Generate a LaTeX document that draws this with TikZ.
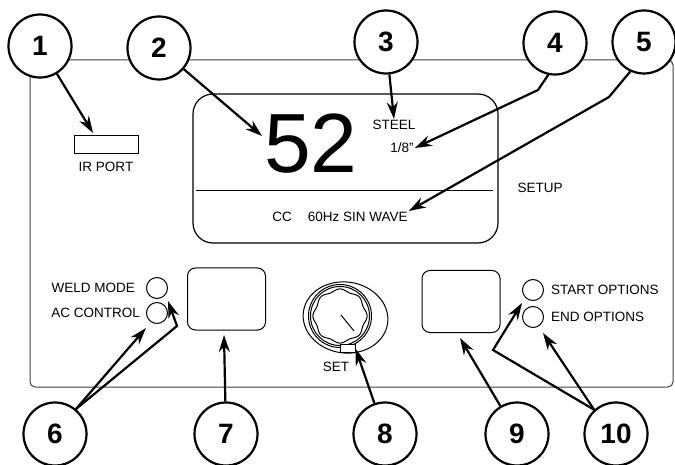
\documentclass[tikz,border=0pt]{standalone}
\usepackage{fontspec}
\setmainfont{Liberation Sans}
\usetikzlibrary{arrows.meta}
\newcommand{\lblfont}{\fontsize{13.5}{16}\selectfont}

\begin{document}
\begin{tikzpicture}[
  x=1pt, y=-1pt,
  callout/.style={draw, circle, line width=2.2pt, fill=white, minimum size=63pt, inner sep=0pt, font=\fontsize{28}{28}\selectfont\bfseries},
  callarrow/.style={-{Stealth[length=17pt,width=11pt]}, line width=2.2pt},
  panel/.style={draw=black!75, line width=1pt},
  btn/.style={draw, line width=1pt, rounded corners=8pt, minimum width=78pt, minimum height=62pt},
  led/.style={draw, circle, line width=1pt, minimum size=21pt, inner sep=0pt},
  lbl/.style={inner sep=1pt, font=\lblfont}
]
\useasboundingbox (0,0) rectangle (675,465);

% front panel
\draw[panel, rounded corners=5pt] (30,60) rectangle (673,387);

% IR port
\node[draw, line width=1pt, minimum width=64pt, minimum height=18pt, inner sep=0pt] (irport) at (106,145) {};
\node[lbl] (irlbl) at (106,167) {IR PORT};

% display
\node[draw, line width=1.2pt, rounded corners=20pt, minimum width=305pt, minimum height=149pt] (lcd) at (345.5,168.5) {};
\draw[line width=1pt] (196,191) -- (493,191);
\node[inner sep=0pt, font=\fontsize{84}{84}\selectfont] (num) at (311,144) {52};
\node[lbl] (steel) at (394,125) {STEEL};
\node[lbl] (thick) at (402,148) {1/8"};
\node[lbl] (mode) at (340,217) {CC\hspace{16pt}60Hz SIN WAVE};
\node[lbl] (setup) at (540,188) {SETUP};

% left controls
\node[led] (ledweld) at (157,288) {};
\node[led] (ledac) at (157,313) {};
\node[lbl, anchor=east] (weldlbl) at (136,288) {WELD MODE};
\node[lbl, anchor=east] (aclbl) at (141,313) {AC CONTROL};
\node[btn] (lbtn) at (226.5,299) {};

% set knob
\draw[line width=1pt, rotate around={-8:(345.5,317.5)}] (345.5,317.5) ellipse (42.5 and 35.5);
\draw[line width=1pt] (340,316) circle (31.5);
\draw[line width=1pt] (340,316) circle (29.5);
\draw[line width=1pt] plot[domain=0:360, samples=120, smooth cycle]
  ({340+(26+1.1*cos(8*\x))*cos(\x)}, {316+(26+1.1*cos(8*\x))*sin(\x)});
\draw[line width=1pt] (341,315) -- (354,331);
\node[draw, fill=white, line width=1pt, minimum width=15pt, minimum height=8pt, inner sep=0pt] (tab) at (347.5,348.5) {};
\node[lbl] (setlbl) at (336,367) {SET};

% right controls
\node[btn] (rbtn) at (461,301.5) {};
\node[led] (ledstart) at (533,290) {};
\node[led] (ledend) at (533,317) {};
\node[lbl, anchor=west] (startlbl) at (550,290) {START OPTIONS};
\node[lbl, anchor=west] (endlbl) at (550,317) {END OPTIONS};

% callouts
\node[callout] (c1) at (40,46) {1};
\node[callout] (c2) at (159,48) {2};
\node[callout] (c3) at (386,42) {3};
\node[callout] (c4) at (555,43) {4};
\node[callout] (c5) at (644,42) {5};
\node[callout] (c6) at (55,434) {6};
\node[callout] (c7) at (226,434) {7};
\node[callout] (c8) at (385,434) {8};
\node[callout] (c9) at (517,434) {9};
\node[callout] (c10) at (616,434) {10};

\coordinate (t1) at (93,133);
\coordinate (t2) at (262,136);
\coordinate (k4) at (538,90);
\coordinate (k5) at (609,97);
\coordinate (t6a) at (146,328);
\coordinate (k6) at (177,326);
\coordinate (t6b) at (168,301);
\coordinate (t7) at (224,335);
\coordinate (t9) at (460,338);
\coordinate (k10) at (493,350);
\coordinate (t10a) at (522,303);
\coordinate (t10b) at (543,333);

\draw[callarrow] (c1) -- (t1);
\draw[callarrow] (c2) -- (t2);
\draw[callarrow] (c3) -- (steel.north);
\draw[callarrow] (c4.-102) -- (k4) -- (thick.east);
\draw[callarrow] (c5.-115) -- (k5) -- (mode.north east);
\draw[callarrow] (c6.50) -- (t6a);
\draw[callarrow] (c6.50) -- (k6) -- (t6b);
\draw[callarrow] (c7) -- (t7);
\draw[callarrow] (c8) -- (tab.east);
\draw[callarrow] (c9) -- (t9);
\draw[callarrow] (c10.132) -- (k10) -- (t10a);
\draw[callarrow] (c10.132) -- (t10b);
\end{tikzpicture}
\end{document}
